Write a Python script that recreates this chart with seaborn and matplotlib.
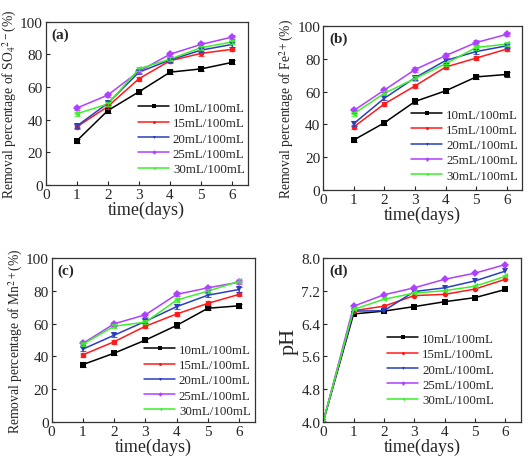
import pandas as pd
import matplotlib
matplotlib.use('Agg')
import matplotlib.pyplot as plt
import seaborn as sns

sns.set_style("ticks", {"xtick.direction": "in", "ytick.direction": "in"})
plt.rcParams['font.family'] = ['Liberation Serif', 'DejaVu Serif']
plt.rcParams['mathtext.fontset'] = 'stix'

# dosage series
doses = ['10mL/100mL', '15mL/100mL', '20mL/100mL', '25mL/100mL', '30mL/100mL']
days = [1, 2, 3, 4, 5, 6]
days_ph = [0, 1, 2, 3, 4, 5, 6]

# (a) SO4 2- removal (%)
so4_10 = [27, 45.5, 57, 69, 71, 75]
so4_15 = [35.5, 48, 65, 76, 80.5, 83]
so4_20 = [36, 50, 69, 76.5, 82.5, 86]
so4_25 = [47, 55, 69.5, 80, 86, 90.5]
so4_30 = [43.5, 49.5, 71, 77, 84, 87.5]

# (b) Fe 2+ removal (%)
fe_10 = [30.5, 41, 54, 60.5, 69, 70.5]
fe_15 = [38.5, 52.5, 63.5, 75, 80.5, 86]
fe_20 = [40.5, 56, 68.5, 79, 84.5, 88]
fe_25 = [48.5, 61, 73.5, 82, 90, 95]
fe_30 = [46.5, 59, 68, 77, 87, 89]

# (c) Mn 2+ removal (%)
mn_10 = [35, 42, 50, 59, 69.5, 71]
mn_15 = [41, 49, 58.5, 66, 72.5, 78]
mn_20 = [44.5, 53, 61.5, 70.5, 77.5, 81]
mn_25 = [48, 60, 65.5, 78, 82, 85.5]
mn_30 = [47.5, 58.5, 61, 74.5, 80, 86]

# (d) pH
ph_10 = [4.0, 6.64, 6.71, 6.82, 6.94, 7.04, 7.24]
ph_15 = [4.0, 6.72, 6.83, 7.09, 7.12, 7.25, 7.49]
ph_20 = [4.0, 6.71, 6.72, 7.19, 7.28, 7.45, 7.69]
ph_25 = [4.0, 6.83, 7.11, 7.28, 7.49, 7.64, 7.85]
ph_30 = [4.0, 6.75, 7.00, 7.15, 7.21, 7.32, 7.56]

# error bar half-widths (approx., same for all series)
err_pct = [1.3, 1.3, 1.3, 1.3, 1.3, 1.3]

colors = {'10mL/100mL': '#000000', '15mL/100mL': '#ff1a1a', '20mL/100mL': '#2a3fbf',
          '25mL/100mL': '#b040ff', '30mL/100mL': '#3cf02a'}
markers = {'10mL/100mL': 's', '15mL/100mL': 'o', '20mL/100mL': 'v',
           '25mL/100mL': 'D', '30mL/100mL': '<'}


def long_df(x, series):
    rows = []
    for dose, vals in zip(doses, series):
        for xi, v in zip(x, vals):
            rows.append({'day': xi, 'value': v, 'dose': dose})
    return pd.DataFrame(rows)


fig = plt.figure(figsize=(5.29, 4.60), dpi=100)
axes = [fig.add_axes([0.0864, 0.596, 0.382, 0.355]),
        fig.add_axes([0.611, 0.585, 0.376, 0.356]),
        fig.add_axes([0.0977, 0.081, 0.384, 0.355]),
        fig.add_axes([0.611, 0.081, 0.373, 0.355])]

panels = [
    (days, [so4_10, so4_15, so4_20, so4_25, so4_30], 'Removal percentage of SO$_4$$^{2-}$(%)', '(a)', (0.985, 0.06)),
    (days, [fe_10, fe_15, fe_20, fe_25, fe_30], 'Removal percentage of Fe$^{2+}$(%)', '(b)', (0.98, 0.05)),
    (days, [mn_10, mn_15, mn_20, mn_25, mn_30], 'Removal percentage of Mn$^{2+}$(%)', '(c)', (0.98, 0.03)),
    (days_ph, [ph_10, ph_15, ph_20, ph_25, ph_30], 'pH', '(d)', (0.865, 0.096)),
]

for i, (ax, (x, series, ylab, tag, anchor)) in enumerate(zip(axes, panels)):
    df = long_df(x, series)
    sns.lineplot(data=df, x='day', y='value', hue='dose', style='dose',
                 palette=colors, markers=markers, dashes=False, ax=ax,
                 linewidth=1.1, markersize=4, markeredgewidth=0)
    if i < 3:
        for dose, vals in zip(doses, series):
            ax.errorbar(x, vals, yerr=err_pct, fmt='none', ecolor=colors[dose],
                        elinewidth=0.8, capsize=2, capthick=0.8, alpha=0.8)
        ax.set_ylim(0, 100)
        ax.set_yticks([0, 20, 40, 60, 80, 100])
        ax.set_ylabel(ylab, fontsize=9.8, labelpad=1)
    else:
        ax.set_ylim(4.0, 8.0)
        ax.set_yticks([4.0, 4.8, 5.6, 6.4, 7.2, 8.0])
        ax.set_yticklabels(['4.0', '4.8', '5.6', '6.4', '7.2', '8.0'])
        ax.set_ylabel(ylab, fontsize=16, labelpad=2)
    ax.set_xlim(0, 6.5)
    ax.set_xticks([0, 1, 2, 3, 4, 5, 6])
    ax.set_xlabel('time(days)', fontsize=13, labelpad=0)
    ax.tick_params(axis='both', labelsize=11, length=3, width=0.8, pad=2)
    for s in ax.spines.values():
        s.set_linewidth(0.9)
        s.set_color('#333333')
    ax.text(0.03, 0.925, tag, transform=ax.transAxes, fontsize=11,
            fontweight='bold', va='center', ha='left')
    ax.legend(loc='lower right', bbox_to_anchor=anchor, frameon=False,
              fontsize=9.3, handlelength=2.4, labelspacing=0.25, markerscale=0.55,
              borderaxespad=0, borderpad=0, handletextpad=0.3)

fig.savefig('out.png', dpi=100)
